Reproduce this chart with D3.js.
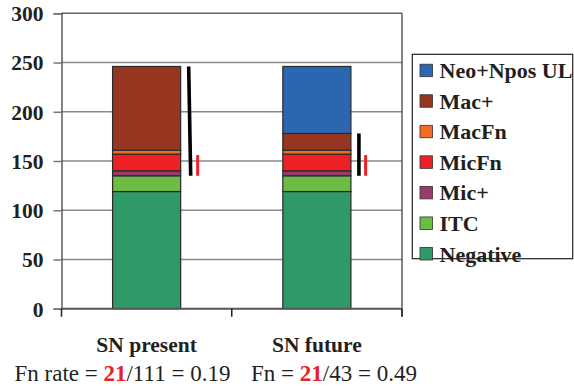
<!DOCTYPE html>
<html>
<head>
<meta charset="utf-8">
<script src="https://cdn.jsdelivr.net/npm/d3@7"></script>
<style>
  html, body { margin: 0; padding: 0; background: #fff; }
  svg { display: block; font-family: "Liberation Serif", "Times New Roman", serif; }
</style>
</head>
<body>
<svg id="chart" width="574" height="386"></svg>
<script>
// Categories and stacked series (bottom to top)
const categories = ["SN present", "SN future"];
const negative   = [119, 119];
const itc        = [16, 16];
const micPos     = [5, 5];
const micFn      = [17, 17];
const macFn      = [4, 4];
const macPos     = [85, 17];
const neoNposUL  = [0, 68];

// Bracket markers: false-negative count and positive total per bar
const fnCount   = [21, 21];
const posTotal  = [111, 43];
const rateLabel = ["Fn rate", "Fn"];

const yTicks = [0, 50, 100, 150, 200, 250, 300];

const seriesNames  = ["Negative", "ITC", "Mic+", "MicFn", "MacFn", "Mac+", "Neo+Npos UL"];
const seriesValues = [negative, itc, micPos, micFn, macFn, macPos, neoNposUL];
const seriesColors = ["#2f9967", "#6dbd45", "#993a6e", "#ee2025", "#f36b21", "#963620", "#2b66b1"];

const svg = d3.select("#chart");
const plot = { left: 61.5, right: 402, top: 13.3, bottom: 308.7 };

const y = d3.scaleLinear().domain([0, 300]).range([plot.bottom, plot.top]);
const x = d3.scaleBand().domain(categories).range([plot.left, plot.right])
  .paddingInner(0.6).paddingOuter(0.3);

// Table for the stack
const rows = categories.map((c, i) => {
  const r = { category: c };
  seriesNames.forEach((n, k) => r[n] = seriesValues[k][i]);
  return r;
});
const stacked = d3.stack().keys(seriesNames)(rows);

// Gridlines
svg.append("g").selectAll("line").data(yTicks.filter(t => t > 0))
  .join("line")
  .attr("x1", plot.left).attr("x2", plot.right)
  .attr("y1", d => y(d)).attr("y2", d => y(d))
  .attr("stroke", d => d === 300 ? "#666" : "#8a8a8a")
  .attr("stroke-width", 1.5);

// Y axis
const yAxis = d3.axisLeft(y).tickValues(yTicks).tickSize(8).tickPadding(10);
const gy = svg.append("g").attr("transform", `translate(${plot.left},0)`).call(yAxis);
gy.select(".domain").attr("stroke", "#333").attr("stroke-width", 1.2);
gy.selectAll(".tick line").attr("stroke", "#777").attr("stroke-width", 1.5);
gy.selectAll(".tick text")
  .attr("fill", "#231f20")
  .attr("font-family", "Liberation Serif")
  .attr("font-weight", "bold")
  .attr("font-size", 21.5)
  .attr("dy", "0.34em");

// Right border of the plot
svg.append("line")
  .attr("x1", plot.right).attr("x2", plot.right)
  .attr("y1", plot.top).attr("y2", plot.bottom + 8)
  .attr("stroke", "#333").attr("stroke-width", 1.2);

// Bars
svg.append("g").selectAll("g").data(stacked).join("g")
  .attr("fill", (d, i) => seriesColors[i])
  .selectAll("rect").data(d => d.filter(s => s[1] - s[0] > 0)).join("rect")
  .attr("x", d => x(d.data.category))
  .attr("width", x.bandwidth())
  .attr("y", d => y(d[1]))
  .attr("height", d => y(d[0]) - y(d[1]))
  .attr("stroke", "#2a2a2a")
  .attr("stroke-width", 1.2);

// X axis baseline with category-boundary ticks
svg.append("line")
  .attr("x1", plot.left).attr("x2", plot.right)
  .attr("y1", plot.bottom).attr("y2", plot.bottom)
  .attr("stroke", "#555").attr("stroke-width", 2);
const bounds = [plot.left, (plot.left + plot.right) / 2, plot.right];
svg.append("g").selectAll("line").data(bounds).join("line")
  .attr("x1", d => d).attr("x2", d => d)
  .attr("y1", plot.bottom).attr("y2", plot.bottom + 8)
  .attr("stroke", "#222").attr("stroke-width", 1.5);

// Category labels
svg.append("g").selectAll("text").data(categories).join("text")
  .attr("x", d => x(d) + x.bandwidth() / 2)
  .attr("y", 352)
  .attr("text-anchor", "middle")
  .attr("font-weight", "bold")
  .attr("font-size", 21.5)
  .attr("fill", "#231f20")
  .text(d => d);

// Bracket markers beside each bar
const base = negative.map((v, i) => v + itc[i]);
const blackGap = [8, 8];
const redGap = [17, 14.7];
const tilt = [2, 0];
categories.forEach((c, i) => {
  const right = x(c) + x.bandwidth();
  const bx = right + blackGap[i];
  svg.append("line")
    .attr("x1", bx).attr("x2", bx + tilt[i])
    .attr("y1", y(base[i] + posTotal[i])).attr("y2", y(base[i]))
    .attr("stroke", "#000").attr("stroke-width", 3.6);
  const rx = right + redGap[i];
  svg.append("line")
    .attr("x1", rx).attr("x2", rx)
    .attr("y1", y(base[i] + fnCount[i])).attr("y2", y(base[i]))
    .attr("stroke", "#ee2025").attr("stroke-width", 3);
});

// Rate text under the chart
const fmt = d3.format(".2f");
const rateX = [14.5, 251];
categories.forEach((c, i) => {
  const t = svg.append("text")
    .attr("x", rateX[i]).attr("y", 381)
    .attr("font-size", 23).attr("fill", "#231f20");
  t.append("tspan").text(`${rateLabel[i]} = `);
  t.append("tspan").attr("font-weight", "bold").attr("fill", "#e8202a").text(fnCount[i]);
  t.append("tspan").text(`/${posTotal[i]} = ${fmt(fnCount[i] / posTotal[i])}`);
});

// Legend
const legend = svg.append("g");
legend.append("rect")
  .attr("x", 412.3).attr("y", 54.3)
  .attr("width", 160.4).attr("height", 204.4)
  .attr("fill", "#fff").attr("stroke", "#222").attr("stroke-width", 1.2);
const legendOrder = seriesNames.map((n, i) => i).reverse();
const items = legend.selectAll("g.item").data(legendOrder).join("g")
  .attr("class", "item")
  .attr("transform", (d, j) => `translate(0,${70.7 + j * 30.55})`);
items.append("rect")
  .attr("x", 420).attr("y", -6.5).attr("width", 12.5).attr("height", 12.5)
  .attr("fill", d => seriesColors[d]).attr("stroke", "#333").attr("stroke-width", 0.8);
items.append("text")
  .attr("x", 439.5).attr("y", 7.5)
  .attr("font-weight", "bold").attr("font-size", 22).attr("fill", "#231f20")
  .text(d => seriesNames[d]);
</script>
</body>
</html>
